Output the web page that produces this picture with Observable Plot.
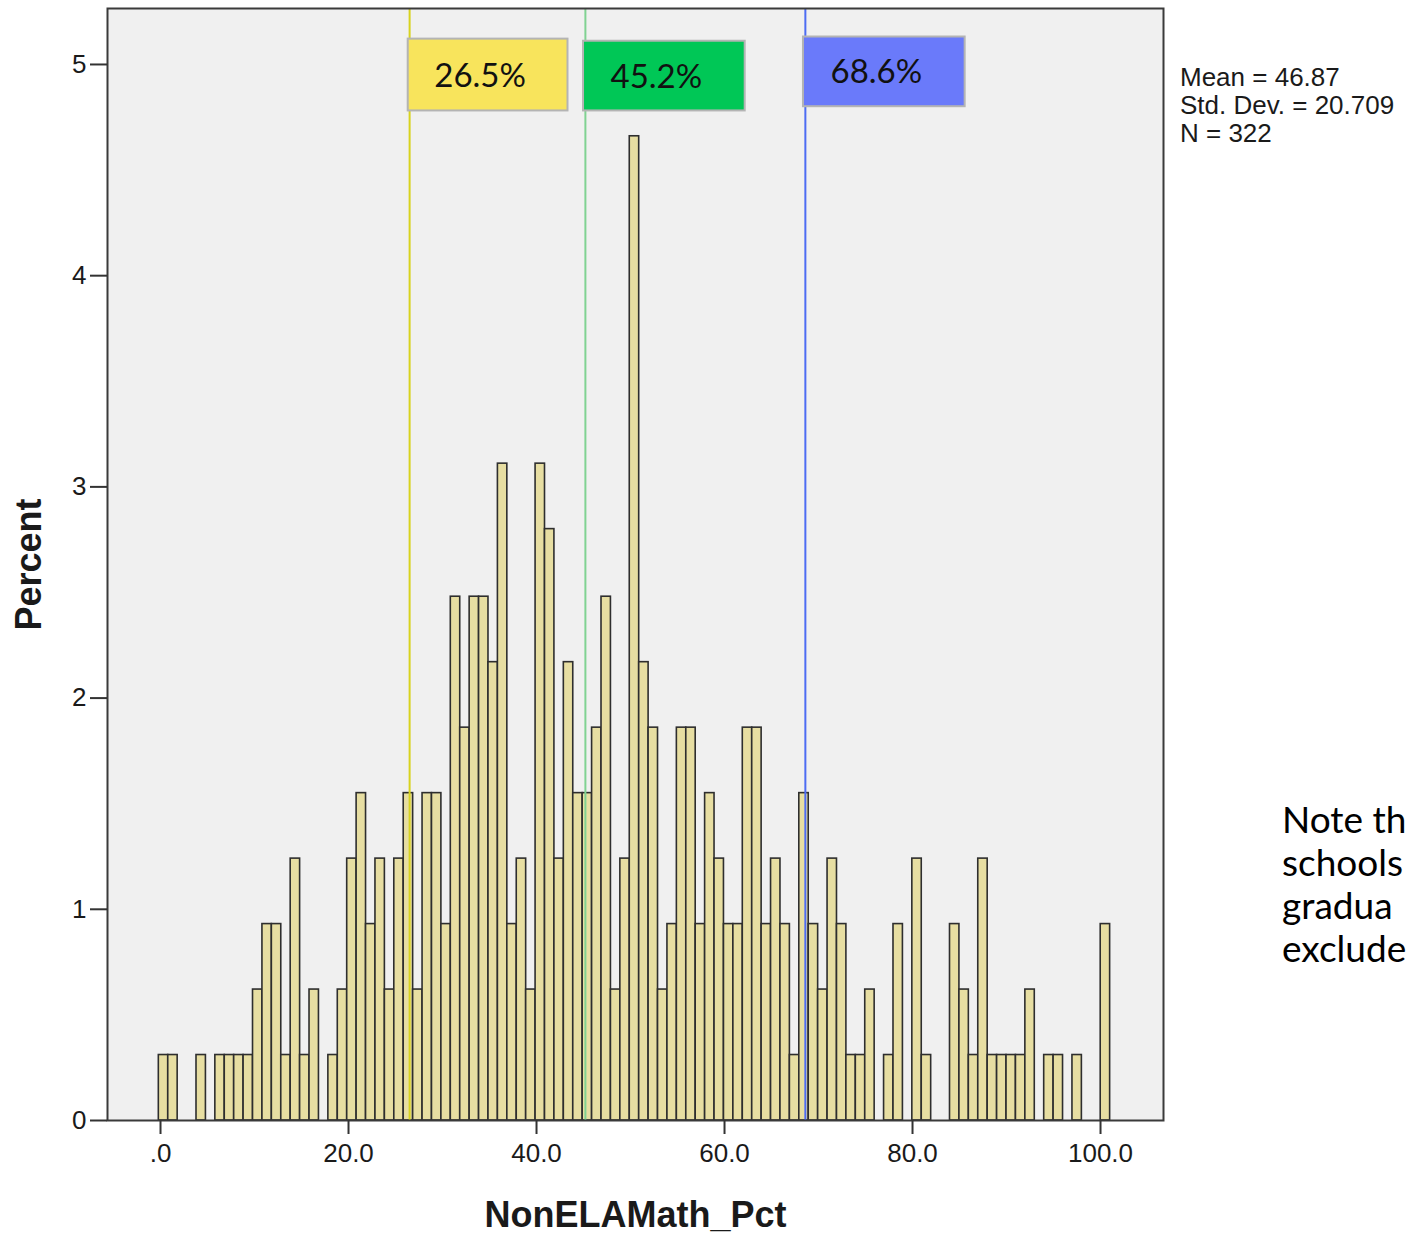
<!DOCTYPE html>
<html>
<head>
<meta charset="utf-8">
<script src="https://cdn.jsdelivr.net/npm/d3@7"></script>
<script src="https://cdn.jsdelivr.net/npm/@observablehq/plot@0.6"></script>
<style>
  html, body { margin: 0; padding: 0; background: #ffffff; overflow: hidden; }
  #wrap { position: relative; width: 1410px; height: 1235px; overflow: hidden; background: #ffffff; }
  #stats { position: absolute; left: 1180px; top: 63px; font-family: "Liberation Sans", Arial, sans-serif; font-size: 26px; line-height: 28px; color: #1a1a1a; white-space: nowrap; }
  #note { position: absolute; left: 1282px; top: 797px; font-family: Lato, "Open Sans", sans-serif; font-size: 37px; line-height: 43px; color: #000; white-space: nowrap; }
</style>
</head>
<body>
<div id="wrap"></div>
<script>
// ---- Data ----
const binStart = -0.18;     // lower edge of the first bin
const binWidth = 1.002;     // bin width (x units)
// Percent of cases per bin (bins 0..100)
const percents = [
  0.31,0.31,0,0,0.31,0,0.31,0.31,0.31,0.31,0.62,0.93,0.93,0.31,1.24,0.31,0.62,0,0.31,0.62,1.24,1.55,
  0.93,1.24,0.62,1.24,1.55,0.62,1.55,1.55,0.93,2.48,1.86,2.48,2.48,2.17,3.11,0.93,1.24,0.62,
  3.11,2.80,1.24,2.17,1.55,1.55,1.86,2.48,0.62,1.24,4.66,2.17,1.86,0.62,0.93,1.86,1.86,0.93,1.55,1.24,
  0.93,0.93,1.86,1.86,0.93,1.24,0.93,0.31,1.55,0.93,0.62,1.24,0.93,0.31,0.31,0.62,0,0.31,0.93,0,1.24,
  0.31,0,0,0.93,0.62,0.31,1.24,0.31,0.31,0.31,0.31,0.62,0,0.31,0.31,0,0.31,0,0,0.93
];
const refValues = [26.5, 45.2, 68.6];
const refLabels = ["26.5%", "45.2%", "68.6%"];
const xTicks = [0, 20, 40, 60, 80, 100];
const xTickLabels = [".0", "20.0", "40.0", "60.0", "80.0", "100.0"];
const yTicks = [0, 1, 2, 3, 4, 5];
const yTickLabels = ["0", "1", "2", "3", "4", "5"];
const xTitle = "NonELAMath_Pct";
const yTitle = "Percent";
const statsLines = ["Mean = 46.87", "Std. Dev. = 20.709", "N = 322"];
const noteLines = ["Note th", "schools", "gradua", "exclude"];

// ---- Styles / layout ----
const refFill = ["#f8e45c", "#00c756", "#6a7afa"];
const refLine = ["#d8d31e", "#80d292", "#4d6cf3"];
const boxLayout = [            // [left offset, width, bottom, top] in data units
  [-0.15, 17.0, 4.78, 5.12],
  [-0.2, 17.2, 4.78, 5.11],
  [-0.2, 17.2, 4.80, 5.13]
];

const bins = percents.map((p, i) => ({
  x1: binStart + i * binWidth,
  x2: binStart + (i + 1) * binWidth,
  pct: p
})).filter(d => d.pct > 0);

const refs = refValues.map((v, i) => ({
  v, label: refLabels[i], fill: refFill[i], line: refLine[i],
  bx1: v + boxLayout[i][0], bx2: v + boxLayout[i][0] + boxLayout[i][1],
  by1: boxLayout[i][2], by2: boxLayout[i][3]
}));

const chart = Plot.plot({
  width: 1410,
  height: 1235,
  marginLeft: 107,
  marginRight: 247,
  marginTop: 8,
  marginBottom: 115,
  style: { fontFamily: "'Liberation Sans', Arial, sans-serif", fontSize: "26px", background: "transparent", color: "#1a1a1a" },
  x: { domain: [-5.64, 106.7] },
  y: { domain: [0, 5.265] },
  marks: [
    Plot.frame({ fill: "#f0f0f0", stroke: null }),
    Plot.rect(bins, { x1: "x1", x2: "x2", y1: 0, y2: "pct", fill: "#e7dea2", stroke: "#2e2e2e", strokeWidth: 1.6 }),
    Plot.ruleX(refs, { x: "v", stroke: "line", strokeWidth: 2 }),
    Plot.rect(refs, { x1: "bx1", x2: "bx2", y1: "by1", y2: "by2", fill: "fill", stroke: "#b4b4b4", strokeWidth: 2 }),
    Plot.text(refs, { x: d => (d.bx1 + d.bx2) / 2, y: d => (d.by1 + d.by2) / 2, text: "label", fontSize: 33, fontFamily: "Lato, 'Open Sans', sans-serif", fill: "#111", dx: -8, dy: 1 }),
    Plot.frame({ stroke: "#3a3a3a", strokeWidth: 2 }),
    Plot.axisX(xTicks, { tickFormat: (d, i) => xTickLabels[i], tickSize: 14, tickPadding: 9, fontSize: 26, strokeWidth: 2, stroke: "#333", label: null }),
    Plot.axisY(yTicks, { tickFormat: (d, i) => yTickLabels[i], tickSize: 17, tickPadding: 4, fontSize: 26, strokeWidth: 2, stroke: "#333", label: null }),
    Plot.text([xTitle], { frameAnchor: "bottom", lineAnchor: "middle", dy: 95, fontSize: 36, fontWeight: "bold", fill: "#1a1a1a" }),
    Plot.text([yTitle], { frameAnchor: "left", textAnchor: "middle", lineAnchor: "middle", dx: -78, rotate: -90, fontSize: 36, fontWeight: "bold", fill: "#1a1a1a" })
  ]
});

const wrap = document.getElementById("wrap");
wrap.appendChild(chart);

const stats = document.createElement("div");
stats.id = "stats";
stats.innerHTML = statsLines.map(s => `<div>${s}</div>`).join("");
wrap.appendChild(stats);

const note = document.createElement("div");
note.id = "note";
note.innerHTML = noteLines.map(s => `<div>${s}</div>`).join("");
wrap.appendChild(note);
</script>
</body>
</html>
